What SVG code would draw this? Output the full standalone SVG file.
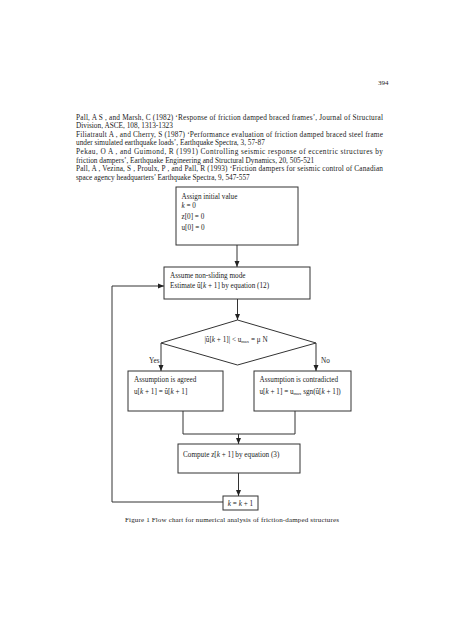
<svg xmlns="http://www.w3.org/2000/svg" width="464" height="640" viewBox="0 0 464 640">
<defs>
<style>
text{font-family:"Liberation Serif","Times New Roman",serif;fill:#222;font-size:7.2px}
.ref{font-size:7.3px}
.box{fill:none;stroke:#333;stroke-width:1}
.con{fill:none;stroke:#333;stroke-width:1}
.it{font-style:italic}
.sub{font-size:4.5px}
</style>
<marker id="ah" viewBox="0 0 6 6" refX="6" refY="3" markerWidth="6" markerHeight="6" markerUnits="userSpaceOnUse" orient="auto">
<path d="M0,0.5 L6,3 L0,5.5 Z" fill="#222"/>
</marker>
</defs>
<rect width="464" height="640" fill="#fff"/>
<text x="378" y="84.5" style="font-size:7px">394</text>
<g id="references" class="ref">
<text class="ref" x="76" y="119.5" textLength="307" lengthAdjust="spacing">Pall, A S , and Marsh, C (1982)  ‘Response of friction damped braced frames’, Journal of Structural</text>
<text class="ref" x="76" y="128.1">Division, ASCE, 108, 1313-1323</text>
<text class="ref" x="76" y="136.7" textLength="307" lengthAdjust="spacing">Filiatrault A , and Cherry, S (1987)  ‘Performance evaluation of friction damped braced steel frame</text>
<text class="ref" x="76" y="145.3">under simulated earthquake loads’, Earthquake Spectra, 3, 57-87</text>
<text class="ref" x="76" y="153.9" textLength="307" lengthAdjust="spacing">Pekau, O A , and Guimond, R (1991)  Controlling seismic response of eccentric structures by</text>
<text class="ref" x="76" y="162.5">friction dampers’, Earthquake Engineering and Structural Dynamics, 20, 505-521</text>
<text class="ref" x="76" y="171.1" textLength="307" lengthAdjust="spacing">Pall, A , Vezina, S , Proulx, P , and Pall, R (1993)  ‘Friction dampers for seismic control of Canadian</text>
<text class="ref" x="76" y="179.7">space agency headquarters’  Earthquake Spectra, 9, 547-557</text>
</g>
<g id="connectors">
<line class="con" x1="237" y1="245" x2="237" y2="267" marker-end="url(#ah)"/>
<line class="con" x1="237.5" y1="299" x2="237.5" y2="320" marker-end="url(#ah)"/>
<line class="con" x1="161" y1="343" x2="161" y2="371" marker-end="url(#ah)"/>
<line class="con" x1="316" y1="343" x2="316" y2="371" marker-end="url(#ah)"/>
<polyline class="con" points="183,411 183,434 295,434 295,411"/>
<line class="con" x1="238.5" y1="434" x2="238.5" y2="444" marker-end="url(#ah)"/>
<line class="con" x1="238.5" y1="473" x2="238.5" y2="496" marker-end="url(#ah)"/>
<polyline class="con" points="223,502 112,502 112,286 164,286" marker-end="url(#ah)"/>
<text x="149" y="363">Yes</text>
<text x="321" y="363">No</text>
</g>
<g id="init">
<rect class="box" x="176" y="187" width="122" height="58"/>
<text x="181.5" y="199">Assign initial value</text>
<text x="181.5" y="208"><tspan class="it">k</tspan> = 0</text>
<text x="181.5" y="218.5">z[0] = 0</text>
<text x="181.5" y="229.5">u[0] = 0</text>
</g>
<g id="estimate">
<rect class="box" x="164" y="267" width="146" height="32"/>
<text x="170" y="278">Assume non-sliding mode</text>
<text x="170" y="288">Estimate  û[<tspan class="it">k</tspan> + 1] by equation (12)</text>
</g>
<g id="decision">
<polygon class="box" points="237.5,320 316,343 237.5,365 161,343"/>
<text x="236" y="341.5" text-anchor="middle">|û[<tspan class="it">k</tspan> + 1]| &lt; u<tspan class="sub" dy="1.5">max</tspan><tspan dy="-1.5"> = μ N</tspan></text>
</g>
<g id="agreed">
<rect class="box" x="128" y="371" width="95" height="40"/>
<text x="134" y="381.5">Assumption is agreed</text>
<text x="134" y="393.5">u[<tspan class="it">k</tspan> + 1] = û[<tspan class="it">k</tspan> + 1]</text>
</g>
<g id="contradicted">
<rect class="box" x="254" y="371" width="97" height="40"/>
<text x="259.5" y="381.5">Assumption is contradicted</text>
<text x="259.5" y="393.5">u[<tspan class="it">k</tspan> + 1] = u<tspan class="sub" dy="1.5">max</tspan><tspan dy="-1.5"> sgn(û[</tspan><tspan class="it">k</tspan> + 1])</text>
</g>
<g id="compute">
<rect class="box" x="178" y="444" width="122" height="29"/>
<text x="183" y="456.5">Compute  z[<tspan class="it">k</tspan> + 1] by equation (3)</text>
</g>
<g id="increment">
<rect class="box" x="223" y="496" width="35" height="14"/>
<text x="240.5" y="505.5" text-anchor="middle"><tspan class="it">k</tspan> = <tspan class="it">k</tspan> + 1</text>
</g>
<text x="125" y="521.5" textLength="214" lengthAdjust="spacing" style="font-size:7px">Figure 1 Flow chart for numerical analysis of friction-damped structures</text>
</svg>
